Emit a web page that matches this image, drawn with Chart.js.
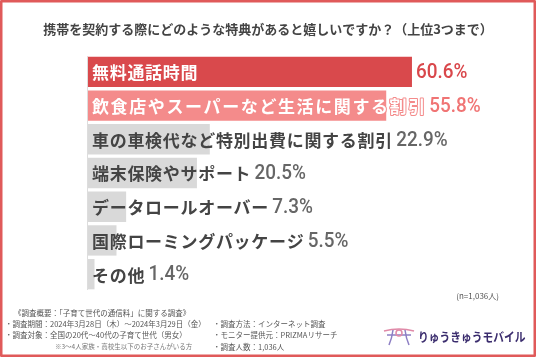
<!DOCTYPE html>
<html><head><meta charset="utf-8">
<script src="https://cdn.jsdelivr.net/npm/chart.js@4"></script>
<style>html,body{margin:0;padding:0;background:#fff;}canvas{display:block;}</style>
</head><body>
<canvas id="c" width="536" height="357"></canvas>
<script>
const title = '携帯を契約する際にどのような特典があると嬉しいですか？（上位3つまで）';
const categories = ['無料通話時間','飲食店やスーパーなど生活に関する割引','車の車検代など特別出費に関する割引','端末保険やサポート','データロールオーバー','国際ローミングパッケージ','その他'];
const values = [60.6, 55.8, 22.9, 20.5, 7.3, 5.5, 1.4];
const sampleNote = '(n=1,036人)';
const footLeft = ['《調査概要：「子育て世代の通信料」に関する調査》','・調査期間：2024年3月28日（木）～2024年3月29日（金）','・調査対象：全国の20代～40代の子育て世代（男女）'];
const footNote = '※3～4人家族・高校生以下のお子さんがいる方';
const footRight = ['・調査方法：インターネット調査','・モニター提供元：PRIZMAリサーチ','・調査人数：1,036人'];
const brand = 'りゅうきゅうモバイル';

const barColors = ['#d9494c','#f48b8b','#d9d9d9','#d9d9d9','#d9d9d9','#d9d9d9','#d9d9d9'];
const labelColors = ['#ffffff','#ffffff','#444444','#444444','#444444','#444444','#444444'];
const labelSpacing = [0.7, 1.6, 0.7, 0.7, 0.7, 0.7, 0.7];
const valueColors = ['#d9474b','#f07474','#666666','#666666','#666666','#666666','#666666'];
const JP = '"Noto Sans CJK JP","Noto Sans",sans-serif';

const decor = {
  id:'decor',
  beforeDraw(chart){
    const ctx = chart.ctx;
    ctx.save();
    ctx.fillStyle='#fff'; ctx.fillRect(0,0,chart.width,chart.height);
    ctx.restore();
  },
  afterDatasetsDraw(chart){
    const ctx = chart.ctx;
    const meta = chart.getDatasetMeta(0);
    const xs = chart.scales.x;
    const x0 = xs.getPixelForValue(0);
    ctx.save();
    ctx.strokeStyle='#dddddd'; ctx.lineWidth=1;
    ctx.beginPath(); ctx.moveTo(x0+0.5, chart.chartArea.top+2); ctx.lineTo(x0+0.5, chart.chartArea.bottom-1); ctx.stroke();
    meta.data.forEach((bar,i)=>{
      const ls = labelSpacing[i];
      const y = bar.y;
      ctx.font = 'bold 17px '+JP;
      ctx.letterSpacing = '0px';
      const w = ctx.measureText(categories[i]).width + (categories[i].length-1)*ls;
      ctx.letterSpacing = ls+'px';
      ctx.textBaseline='middle'; ctx.textAlign='left';
      const tx = x0+5;
      if(i===1){
        ctx.strokeStyle='#f48b8b'; ctx.lineWidth=2; ctx.lineJoin='round';
        ctx.strokeText(categories[i], tx, y+1);
      }
      ctx.fillStyle = labelColors[i];
      ctx.fillText(categories[i], tx, y+1);
      ctx.letterSpacing = '0px';
      const vx = Math.max(bar.x, tx+w) + 4;
      ctx.save();
      ctx.translate(vx, y+1); ctx.scale(0.9,1);
      ctx.font = '500 21px Roboto, "Liberation Sans", sans-serif';
      ctx.fillStyle = valueColors[i];
      ctx.fillText(values[i].toFixed(1)+'%', 0, 0);
      ctx.restore();
    });
    ctx.font = 'bold 13px '+JP; ctx.fillStyle='#444'; ctx.textAlign='center'; ctx.textBaseline='middle';
    ctx.fillText(title, 268, 29);
    ctx.fillStyle='#555';
    ctx.font = '8px '+JP;
    ctx.textAlign='right'; ctx.fillText(sampleNote, 499, 296);
    ctx.textAlign='left';
    ctx.font = '7.5px '+JP;
    const ly=[313,324,335];
    footLeft.forEach((t,i)=>ctx.fillText(t, i===0?14:5, ly[i]));
    footRight.forEach((t,i)=>{ if(i<2) ctx.fillText(t, 213, ly[i+1]); });
    ctx.fillText(footRight[2], 213, 347);
    ctx.fillStyle='#777'; ctx.font='6.5px '+JP;
    ctx.fillText(footNote, 55, 347);
    ctx.strokeStyle='#e08aa8'; ctx.lineWidth=1.5;
    ctx.beginPath(); ctx.moveTo(384,331); ctx.quadraticCurveTo(399,327,414,331); ctx.stroke();
    ctx.strokeStyle='#8d7fc4';
    ctx.beginPath(); ctx.moveTo(387,335); ctx.lineTo(411,335); ctx.stroke();
    ctx.beginPath(); ctx.moveTo(393,330); ctx.quadraticCurveTo(392,338,389,345); ctx.stroke();
    ctx.beginPath(); ctx.moveTo(405,330); ctx.quadraticCurveTo(406,338,409,345); ctx.stroke();
    ctx.strokeStyle='#e08aa8';
    ctx.beginPath(); ctx.arc(399,333,3,0,Math.PI*2); ctx.stroke();
    ctx.save();
    ctx.translate(418,337); ctx.scale(0.86,1);
    ctx.font='bold 12.5px '+JP; ctx.fillStyle='#3b2d6e';
    ctx.fillText(brand, 0, 0);
    ctx.restore();
    ctx.strokeStyle='#e05a5a'; ctx.lineWidth=2.5;
    ctx.strokeRect(1.25,1.25,chart.width-2.5,chart.height-2.5);
    ctx.restore();
  }
};

new Chart(document.getElementById('c'),{
  type:'bar',
  data:{labels:categories, datasets:[{data:values, backgroundColor:barColors, borderWidth:0, barPercentage:0.9, categoryPercentage:1}]},
  options:{
    indexAxis:'y', responsive:false, animation:false,
    layout:{padding:{left:87,right:20,top:55,bottom:66}},
    scales:{x:{display:false,min:0,max:80}, y:{display:false}},
    plugins:{legend:{display:false}, tooltip:{enabled:false}}
  },
  plugins:[decor]
});
</script>
</body></html>
